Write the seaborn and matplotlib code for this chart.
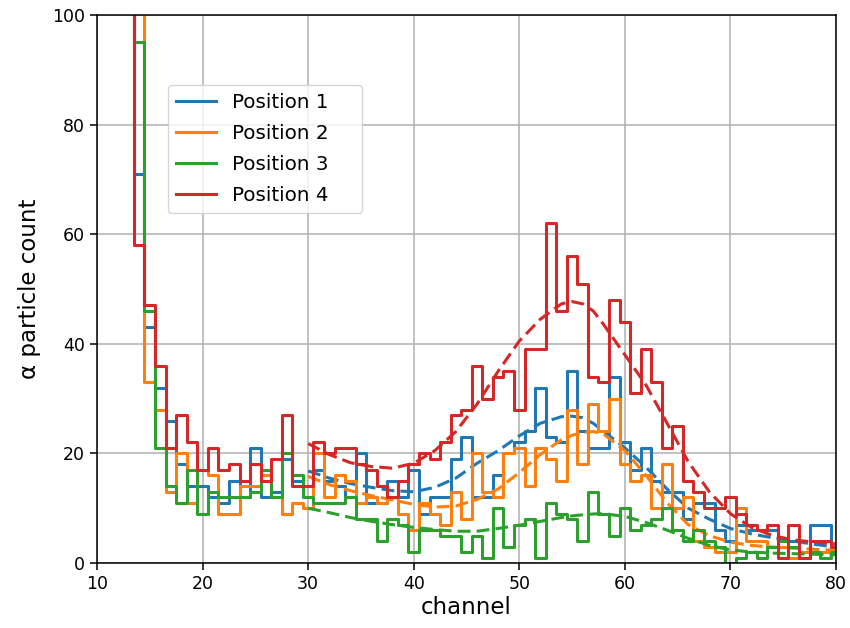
import numpy as np
import pandas as pd
import matplotlib
matplotlib.use("Agg")
import matplotlib.pyplot as plt
import seaborn as sns

# ---------------- data ----------------
channels = list(range(13, 81))

pos1 = [150, 71, 43, 32, 26, 18, 14, 14, 12, 11, 15, 12, 21, 12, 13, 19, 15, 14,
        17, 15, 14, 12, 20, 11, 11, 15, 12, 17, 9, 12, 12, 19, 23, 12, 12, 16,
        20, 22, 24, 32, 23, 22, 35, 24, 21, 21, 34, 22, 17, 21, 15, 13, 13, 8,
        11, 11, 6, 4, 7, 6, 6, 6, 4, 4, 2, 7, 7, 3]
pos2 = [150, 120, 33, 28, 13, 20, 11, 17, 16, 9, 9, 14, 14, 16, 12, 9, 11, 10,
        20, 12, 16, 15, 11, 12, 11, 12, 9, 6, 11, 9, 7, 13, 8, 20, 13, 12,
        20, 21, 14, 21, 19, 15, 28, 18, 29, 24, 30, 18, 15, 16, 10, 18, 10, 12,
        4, 3, 2, 2, 10, 4, 4, 3, 3, 1, 2, 2, 2, 2]
pos3 = [150, 95, 46, 21, 14, 11, 17, 9, 13, 12, 12, 12, 13, 17, 12, 20, 16, 12,
        11, 11, 11, 12, 8, 8, 4, 8, 7, 2, 6, 6, 5, 5, 2, 5, 1, 10,
        3, 7, 8, 1, 11, 9, 8, 4, 13, 9, 5, 10, 6, 7, 8, 10, 6, 4,
        6, 4, 3, 0, 1, 2, 1, 3, 4, 3, 1, 2, 1, 2]
pos4 = [150, 58, 47, 36, 21, 27, 22, 17, 21, 17, 18, 15, 18, 15, 19, 27, 14, 14,
        22, 20, 21, 21, 18, 17, 14, 12, 15, 18, 20, 19, 22, 27, 28, 36, 30, 34,
        35, 28, 39, 39, 62, 46, 56, 51, 34, 33, 48, 44, 31, 39, 33, 21, 25, 15,
        13, 10, 10, 12, 9, 7, 6, 7, 1, 7, 1, 4, 4, 3]

fit_x = [30, 32, 34, 36, 38, 40, 42, 44, 46, 48, 50, 52, 54, 55, 56, 57, 58,
         60, 62, 64, 66, 68, 70, 72, 74, 76, 78, 80]
fit1 = [16.8, 15.5, 14.5, 13.8, 13.2, 13.0, 13.8, 15.5, 18.2, 20.5, 23.2, 25.5,
        26.7, 26.8, 26.5, 25.5, 24.0, 21.0, 17.5, 13.5, 10.0, 8.0, 6.3, 5.3,
        4.6, 4.0, 3.4, 2.9]
fit2 = [15.8, 14.3, 13.2, 12.3, 11.5, 10.7, 10.2, 10.4, 11.6, 13.5, 16.5, 19.8,
        22.5, 23.3, 23.8, 24.0, 23.5, 20.5, 16.0, 11.0, 7.0, 5.0, 3.8, 3.2,
        2.9, 2.7, 2.5, 2.3]
fit3 = [10.0, 9.2, 8.3, 7.6, 7.0, 6.5, 6.1, 5.8, 5.8, 6.3, 6.9, 7.6, 8.3, 8.6,
        8.8, 8.95, 9.0, 8.5, 7.4, 6.0, 4.5, 3.2, 2.4, 2.0, 1.8, 1.7, 1.6, 1.5]
fit4 = [21.8, 19.8, 18.3, 17.6, 17.3, 18.2, 20.5, 24.0, 29.0, 35.0, 40.5, 44.5,
        47.3, 47.7, 47.3, 46.0, 43.5, 38.0, 32.5, 25.5, 18.5, 13.0, 9.0, 6.5,
        5.0, 4.2, 3.8, 3.5]

labels = ["Position 1", "Position 2", "Position 3", "Position 4"]
colors = ["#1f77b4", "#ff7f0e", "#2ca02c", "#d62728"]

# ---------------- plot ----------------
plt.rcParams["font.family"] = ["DejaVu Sans"]
fig = plt.figure(figsize=(8.5, 6.28), dpi=100)
ax = fig.add_axes([0.1141, 0.1035, 0.8694, 0.8726])

for lab, col, hist, fit in zip(labels, colors, [pos1, pos2, pos3, pos4],
                               [fit1, fit2, fit3, fit4]):
    dfh = pd.DataFrame({"channel": channels, "count": hist})
    sns.lineplot(data=dfh, x="channel", y="count", ax=ax, color=col,
                 drawstyle="steps-mid", linewidth=2.2, label=lab + "    ",
                 estimator=None, sort=True)
    dff = pd.DataFrame({"channel": fit_x, "count": fit})
    sns.lineplot(data=dff, x="channel", y="count", ax=ax, color=col,
                 linestyle=(0, (4.2, 2.0)), linewidth=2.2, estimator=None,
                 legend=False)

ax.set_xlim(10, 80)
ax.set_ylim(0, 100)
ax.set_xticks(range(10, 81, 10))
ax.set_yticks(range(0, 101, 20))
ax.grid(True, color="#b0b0b0", linewidth=1.1)
ax.set_axisbelow(True)
ax.tick_params(labelsize=12.5, length=5, width=1.1)
for s in ax.spines.values():
    s.set_linewidth(1.1)
ax.set_xlabel("channel", fontsize=16.5, labelpad=2)
ax.set_ylabel("α particle count", fontsize=16.5, labelpad=8)

leg = ax.legend(loc="upper left", bbox_to_anchor=(0.0961, 0.8723),
                borderaxespad=0, fontsize=14.3, handlelength=2.0,
                labelspacing=0.6, framealpha=0.8, edgecolor="#cccccc")

fig.savefig("out.png", dpi=100)
